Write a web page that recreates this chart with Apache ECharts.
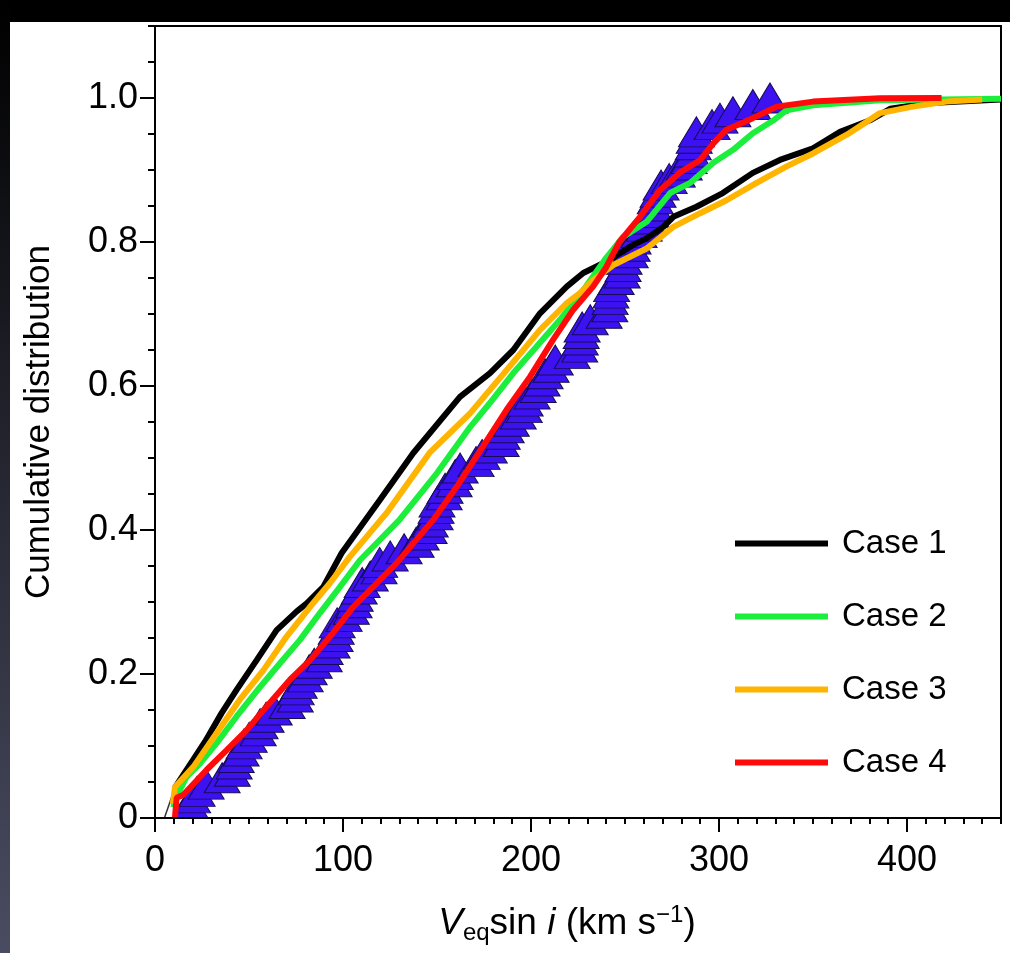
<!DOCTYPE html>
<html><head><meta charset="utf-8">
<script src="https://cdn.jsdelivr.net/npm/echarts@6/dist/echarts.min.js"></script>
<style>html,body{margin:0;padding:0;background:#fff}#c{width:1010px;height:953px}</style>
</head><body><div id="c"></div><script>
// ---- tick values ----
const xMajorTicks = [0, 100, 200, 300, 400];
const yMajorTicks = [0, 0.2, 0.4, 0.6, 0.8, 1.0];

// ---- model curves ----
const case1StartX = [5, 10.6];
const case1StartY = [0, 0.042];
const case1X = [10.6, 26.6, 35.5, 43.4, 54, 64.7, 75.4, 80.7, 89.5, 99.3, 119.7, 137.4, 162.2, 178.2, 190.6, 204.8, 219, 227.8, 240.2, 254.4, 261.5, 270.4, 275.7, 288, 302, 318, 332.4, 350, 364.4, 380.3, 391, 412, 450];
const case1Y = [0.042, 0.106, 0.146, 0.178, 0.219, 0.261, 0.287, 0.298, 0.321, 0.368, 0.442, 0.507, 0.585, 0.618, 0.65, 0.701, 0.738, 0.757, 0.773, 0.796, 0.805, 0.821, 0.835, 0.849, 0.868, 0.896, 0.914, 0.93, 0.953, 0.969, 0.985, 0.993, 0.998];

const case2X = [9.8, 10.5, 16.8, 24, 32.8, 43.4, 55.9, 66.5, 77, 87.8, 98.4, 109, 130, 150, 167.6, 178, 190.6, 203, 215.4, 227.8, 240, 249, 261.5, 274, 284.6, 297, 307.5, 318, 329, 336, 350, 385.6, 450];
const case2Y = [0.015, 0.025, 0.057, 0.076, 0.104, 0.141, 0.182, 0.215, 0.247, 0.285, 0.321, 0.358, 0.414, 0.479, 0.543, 0.576, 0.618, 0.655, 0.692, 0.733, 0.778, 0.807, 0.828, 0.868, 0.882, 0.91, 0.928, 0.951, 0.969, 0.983, 0.99, 0.997, 0.999];

const case3X = [9.5, 10.6, 20.4, 32.8, 45, 57.6, 70, 82.4, 93, 103.7, 123, 146, 167.6, 187, 204.8, 219, 226, 233, 243.8, 261.5, 275.7, 290, 304, 320, 336, 350, 368, 385.6, 403, 421, 440];
const case3Y = [0.02, 0.043, 0.071, 0.118, 0.164, 0.205, 0.252, 0.293, 0.326, 0.363, 0.423, 0.507, 0.562, 0.622, 0.678, 0.715, 0.729, 0.747, 0.768, 0.791, 0.821, 0.84, 0.858, 0.882, 0.905, 0.923, 0.949, 0.979, 0.988, 0.995, 0.998];

const case4X = [10.6, 11.5, 15, 27.5, 38, 48.8, 59.4, 71.8, 82.4, 94.7, 105.4, 117.9, 128.5, 148, 160.5, 174.5, 187, 199.5, 211.7, 222.5, 233, 240, 247, 258, 268.6, 279, 290, 297, 304, 318, 330.7, 350, 385.6, 418.4];
const case4Y = [0, 0.028, 0.032, 0.067, 0.094, 0.122, 0.155, 0.192, 0.219, 0.257, 0.293, 0.326, 0.354, 0.414, 0.46, 0.516, 0.567, 0.613, 0.664, 0.706, 0.738, 0.765, 0.80, 0.835, 0.872, 0.896, 0.914, 0.937, 0.956, 0.972, 0.988, 0.995, 0.9995, 1.0];

// ---- observed sample (triangles) ----
const obsX = [18.2, 19.0, 20.0, 22.4, 27.2, 35.7, 41.1, 42.1, 43.2, 45.8,
  47.4, 50.1, 54.9, 55.9, 59.1, 63.4, 70.3, 74.6, 75.1, 76.7,
  79.9, 82.0, 84.7, 90.0, 90.5, 94.2, 95.8, 96.4, 96.9, 100.6,
  104.4, 105.9, 106.5, 108.6, 110.2, 114.5, 119.2, 119.5, 125.1, 132.5,
  138.9, 141.6, 145.8, 146.4, 149.0, 149.5, 150.0, 153.8, 154.3, 159.1,
  159.7, 162.3, 170.8, 174.0, 177.8, 184.1, 184.7, 186.8, 189.5, 193.2,
  196.4, 196.9, 200.6, 203.8, 205.9, 207.5, 210.7, 212.9, 221.9, 225.9,
  226.2, 226.7, 227.2, 231.5, 238.9, 241.9, 242.1, 242.5, 242.9, 245.3,
  248.5, 249.0, 249.5, 252.8, 253.8, 254.3, 257.5, 260.2, 261.8, 263.9,
  265.5, 266.1, 267.6, 269.2, 273.5, 277.8, 281.5, 284.1, 285.7, 286.3,
  286.8, 288.0, 296.3, 300.5, 307.4, 318.0, 327.1];
const obsY = [0.009, 0.019, 0.028, 0.037, 0.047, 0.056, 0.065, 0.075, 0.084, 0.093,
  0.103, 0.112, 0.121, 0.131, 0.140, 0.150, 0.159, 0.168, 0.178, 0.187,
  0.196, 0.206, 0.215, 0.224, 0.234, 0.243, 0.252, 0.262, 0.271, 0.280,
  0.290, 0.299, 0.308, 0.318, 0.327, 0.336, 0.346, 0.355, 0.364, 0.374,
  0.383, 0.393, 0.402, 0.411, 0.421, 0.430, 0.439, 0.449, 0.458, 0.467,
  0.477, 0.486, 0.495, 0.505, 0.514, 0.523, 0.533, 0.542, 0.551, 0.561,
  0.570, 0.579, 0.589, 0.598, 0.607, 0.617, 0.626, 0.636, 0.645, 0.654,
  0.664, 0.673, 0.682, 0.692, 0.701, 0.710, 0.720, 0.729, 0.738, 0.748,
  0.757, 0.766, 0.776, 0.785, 0.794, 0.804, 0.813, 0.822, 0.832, 0.841,
  0.850, 0.860, 0.869, 0.879, 0.888, 0.897, 0.907, 0.916, 0.925, 0.935,
  0.944, 0.953, 0.963, 0.972, 0.981, 0.991, 1.000];

const names = ['Case 1', 'Case 2', 'Case 3', 'Case 4'];
const colors = ['#000000', '#1cee3c', '#ffb400', '#ff0a0a'];

const zip = (a, b) => a.map((v, i) => [v, b[i]]);
const FONT = "'Liberation Sans', Arial, Helvetica, sans-serif";

const chart = echarts.init(document.getElementById('c'), null, {renderer: 'canvas'});

const lineSeries = [[case1X, case1Y], [case2X, case2Y], [case3X, case3Y], [case4X, case4Y]].map((d, i) => ({
  name: names[i], type: 'line', data: zip(d[0], d[1]),
  showSymbol: false, symbol: 'none', color: colors[i],
  lineStyle: {color: colors[i], width: 6}, clip: true, z: 2
}));

chart.setOption({
  backgroundColor: '#ffffff',
  animation: false,
  textStyle: {fontFamily: FONT},
  grid: {left: 155, top: 26, width: 846, height: 792, show: true, borderColor: '#000', borderWidth: 2, backgroundColor: 'transparent'},
  legend: {
    data: names, orient: 'vertical', left: 735, top: 527, padding: 0,
    itemWidth: 93, itemHeight: 6, itemGap: 40, icon: 'rect',
    textStyle: {fontSize: 33, color: '#000', fontFamily: FONT, lineHeight: 33, padding: [0, 0, 0, 9]}
  },
  xAxis: [{
    type: 'value', min: 0, max: 450, interval: 100, z: 5,
    axisLine: {show: true, onZero: false, lineStyle: {color: '#000', width: 2}},
    axisTick: {show: true, inside: false, length: 14, customValues: xMajorTicks, lineStyle: {color: '#000', width: 2}},
    axisLabel: {show: true, customValues: xMajorTicks, margin: 25, fontSize: 36, color: '#000', fontFamily: FONT},
    splitLine: {show: false},
    name: '{v|V}{sub|eq}{n|sin }{i|i}{n| (km s}{sup|\u22121}{n|)}',
    nameLocation: 'middle', nameGap: 85,
    nameTextStyle: {
      fontSize: 37, color: '#000', fontFamily: FONT, padding: [0, 22, 0, 0],
      rich: {
        v: {fontSize: 37, fontStyle: 'italic', lineHeight: 42, verticalAlign: 'middle', fontFamily: FONT, color: '#000'},
        i: {fontSize: 37, fontStyle: 'italic', lineHeight: 42, verticalAlign: 'middle', fontFamily: FONT, color: '#000'},
        n: {fontSize: 37, lineHeight: 42, verticalAlign: 'middle', fontFamily: FONT, color: '#000'},
        sub: {fontSize: 24, lineHeight: 14, verticalAlign: 'bottom', fontFamily: FONT, color: '#000'},
        sup: {fontSize: 24, lineHeight: 12, verticalAlign: 'top', fontFamily: FONT, color: '#000'}
      }
    }
  }, {
    type: 'value', min: 0, max: 450, interval: 10, position: 'bottom', z: 5,
    axisLine: {show: false}, axisLabel: {show: false}, splitLine: {show: false},
    axisTick: {show: true, inside: false, length: 6, lineStyle: {color: '#000', width: 2}}
  }],
  yAxis: [{
    type: 'value', min: 0, max: 1.1, interval: 0.2, z: 5,
    axisLine: {show: true, onZero: false, lineStyle: {color: '#000', width: 2}},
    axisTick: {show: true, inside: false, length: 15, customValues: yMajorTicks, lineStyle: {color: '#000', width: 2}},
    axisLabel: {show: true, customValues: yMajorTicks, margin: 17, fontSize: 36, color: '#000', fontFamily: FONT,
      formatter: v => (v === 0 ? '0' : v.toFixed(1))},
    splitLine: {show: false},
    name: 'Cumulative distribution', nameLocation: 'middle', nameRotate: 90, nameGap: 98,
    nameTextStyle: {fontSize: 35, color: '#000', fontFamily: FONT}
  }, {
    type: 'value', min: 0, max: 1.1, interval: 0.05, position: 'left', z: 5,
    axisLine: {show: false}, axisLabel: {show: false}, splitLine: {show: false},
    axisTick: {show: true, inside: false, length: 7, lineStyle: {color: '#000', width: 2}}
  }],
  graphic: {
    elements: [
      {type: 'rect', z: 3, silent: true, shape: {x: 156, y: 819, width: 844, height: 12}, style: {fill: '#ffffff'}},
      {type: 'rect', z: 100, silent: true, shape: {x: 0, y: 0, width: 1010, height: 22}, style: {fill: '#000000'}},
      {type: 'rect', z: 100, silent: true, shape: {x: 0, y: 0, width: 10, height: 953},
        style: {fill: new echarts.graphic.LinearGradient(0, 0, 0, 1, [{offset: 0, color: '#000000'}, {offset: 1, color: '#4a4d62'}])}}
    ]
  },
  series: [{
    name: 'Observed', type: 'scatter', data: zip(obsX, obsY),
    symbol: 'triangle', symbolSize: [36, 30], z: 1,
    itemStyle: {color: '#3d12f0', borderColor: '#160c55', borderWidth: 1, opacity: 1}
  }, {
    name: 'Case 1 start', type: 'line', data: zip(case1StartX, case1StartY),
    showSymbol: false, symbol: 'none', lineStyle: {color: '#333', width: 1.5}, clip: true, z: 2
  }].concat(lineSeries)
});
</script></body></html>
